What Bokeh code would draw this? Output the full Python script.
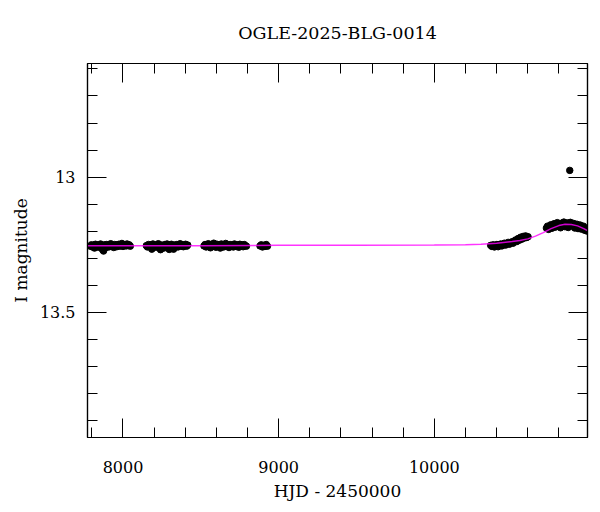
from bokeh.plotting import figure
from bokeh.models import (Range1d, LinearAxis, SingleIntervalTicker,
                          CustomJSTickFormatter)
from bokeh.embed import file_html
from bokeh.resources import INLINE

TITLE = "OGLE-2025-BLG-0014"
X_LABEL = "HJD - 2450000"
Y_LABEL = "I magnitude"

# observing seasons (HJD - 2450000, I mag)
s1_t = [7790, 7797, 7804, 7810, 7817, 7823, 7830, 7836, 7843, 7850,
        7856, 7862, 7869, 7875, 7882, 7888, 7895, 7901, 7908, 7915,
        7921, 7928, 7934, 7941, 7947, 7954, 7960, 7967, 7973, 7980,
        7987, 7993, 8000, 8006, 8013, 8020, 8026, 8033, 8040, 8047]
s1_m = [13.255, 13.250, 13.258, 13.252, 13.262, 13.248, 13.256, 13.251, 13.259, 13.253,
        13.247, 13.257, 13.268, 13.273, 13.250, 13.261, 13.249, 13.255, 13.258, 13.251,
        13.246, 13.256, 13.252, 13.260, 13.249, 13.254, 13.257, 13.250, 13.248, 13.255,
        13.252, 13.245, 13.256, 13.251, 13.249, 13.254, 13.247, 13.253, 13.250, 13.255]

s2_t = [8150, 8157, 8164, 8171, 8178, 8185, 8192, 8199, 8206, 8213,
        8220, 8227, 8234, 8241, 8248, 8255, 8262, 8269, 8276, 8283,
        8290, 8297, 8304, 8311, 8318, 8325, 8332, 8339, 8346, 8353,
        8360, 8367, 8374, 8381, 8388, 8395, 8402, 8409, 8416]
s2_m = [13.253, 13.258, 13.249, 13.256, 13.251, 13.266, 13.247, 13.255, 13.252, 13.259,
        13.250, 13.246, 13.256, 13.268, 13.251, 13.257, 13.262, 13.249, 13.254, 13.247,
        13.258, 13.267, 13.252, 13.248, 13.256, 13.266, 13.251, 13.254, 13.249, 13.258,
        13.252, 13.246, 13.255, 13.250, 13.257, 13.253, 13.248, 13.255, 13.251]

s3_t = [8520, 8527, 8534, 8541, 8548, 8555, 8562, 8569, 8576, 8583,
        8590, 8597, 8604, 8611, 8618, 8625, 8632, 8639, 8646, 8653,
        8660, 8667, 8674, 8681, 8688, 8695, 8702, 8709, 8716, 8723,
        8730, 8737, 8744, 8751, 8758, 8765, 8772, 8779, 8786, 8793]
s3_m = [13.254, 13.249, 13.258, 13.252, 13.246, 13.257, 13.261, 13.250, 13.255, 13.244,
        13.253, 13.259, 13.248, 13.256, 13.251, 13.262, 13.247, 13.254, 13.258, 13.250,
        13.245, 13.256, 13.252, 13.260, 13.249, 13.255, 13.251, 13.258, 13.247, 13.253,
        13.256, 13.250, 13.259, 13.248, 13.254, 13.251, 13.257, 13.249, 13.253, 13.255]

s4_t = [8880, 8888, 8896, 8904, 8912, 8920, 8928]
s4_m = [13.254, 13.250, 13.258, 13.252, 13.256, 13.249, 13.255]

s5_t = [10362, 10370, 10378, 10386, 10394, 10402, 10410, 10418, 10426, 10434,
        10442, 10450, 10458, 10466, 10474, 10482, 10490, 10498, 10506, 10514,
        10522, 10530, 10538, 10546, 10554, 10562, 10570, 10578, 10586, 10594, 10602]
s5_m = [13.252, 13.256, 13.250, 13.258, 13.253, 13.249, 13.257, 13.251, 13.247, 13.254,
        13.249, 13.244, 13.251, 13.246, 13.241, 13.248, 13.243, 13.239, 13.244, 13.236,
        13.232, 13.238, 13.227, 13.233, 13.222, 13.229, 13.219, 13.225, 13.217, 13.223, 13.220]

s6_t = [10720, 10727, 10734, 10741, 10748, 10755, 10762, 10769, 10776, 10783,
        10790, 10797, 10804, 10811, 10818, 10825, 10832, 10839, 10846, 10853,
        10860, 10867, 10874, 10881, 10888, 10895, 10902, 10909, 10916, 10923,
        10930, 10937, 10944, 10951, 10958, 10965, 10972, 10979, 10986]
s6_m = [13.188, 13.181, 13.193, 13.184, 13.176, 13.189, 13.180, 13.172, 13.185, 13.177,
        13.168, 13.182, 13.174, 13.187, 13.170, 13.179, 13.166, 13.183, 13.175, 13.169,
        13.186, 13.173, 13.167, 13.180, 13.176, 13.171, 13.188, 13.178, 13.174, 13.190,
        13.182, 13.177, 13.192, 13.185, 13.181, 13.196, 13.188, 13.199, 13.193]

outlier_t = [10870]
outlier_m = [12.975]

# model curve
model_t = [7770, 8500, 9000, 9500, 10000, 10200, 10300, 10400, 10500, 10550,
           10600, 10650, 10700, 10750, 10800, 10840, 10880, 10920, 10960, 11000]
model_m = [13.253, 13.253, 13.252, 13.252, 13.251, 13.250, 13.248, 13.244, 13.238, 13.234,
           13.228, 13.218, 13.205, 13.190, 13.179, 13.174, 13.175, 13.180, 13.190, 13.202]

x_tick_labels = {8000: "8000", 9000: "9000", 10000: "10000"}
y_tick_labels = {13: "13", 13.5: "13.5"}

FONT = "DejaVu Serif"

p = figure(frame_width=500, frame_height=374,
           x_range=Range1d(7772, 10984), y_range=Range1d(13.962, 12.58),
           output_backend="svg", toolbar_location=None,
           min_border_left=87, min_border_right=5, min_border_top=63,
           min_border_bottom=10, x_axis_label=X_LABEL, y_axis_label=Y_LABEL)
p.background_fill_color = "white"
p.border_fill_color = "white"
p.xgrid.visible = False
p.ygrid.visible = False
p.outline_line_color = "black"
p.outline_line_width = 1.2

p.title.text = TITLE
p.title.align = "center"
p.title.vertical_align = "bottom"
p.title.text_font = FONT
p.title.text_font_size = "17.5px"
p.title.text_font_style = "normal"
p.title.text_color = "black"
p.title.standoff = 41

xt = SingleIntervalTicker(interval=1000, num_minor_ticks=5)
yt = SingleIntervalTicker(interval=0.5, num_minor_ticks=5)

def style(ax):
    ax.axis_line_color = "black"
    ax.axis_line_width = 1.2
    ax.major_tick_in = 19
    ax.major_tick_out = 0
    ax.minor_tick_in = 10
    ax.minor_tick_out = 0
    ax.major_tick_line_color = "black"
    ax.minor_tick_line_color = "black"
    ax.major_label_text_font = FONT
    ax.major_label_text_font_size = "16px"
    ax.major_label_text_color = "black"
    ax.axis_label_text_font = FONT
    ax.axis_label_text_font_size = "17px"
    ax.axis_label_text_font_style = "normal"
    ax.axis_label_text_color = "black"

xa = p.xaxis[0]
xa.ticker = xt
xa.major_label_overrides = x_tick_labels
style(xa)
xa.major_label_standoff = 23
xa.axis_label_standoff = 5

ya = p.yaxis[0]
ya.ticker = yt
ya.major_label_overrides = y_tick_labels
style(ya)
ya.major_label_standoff = 12
ya.axis_label_standoff = 6

empty = CustomJSTickFormatter(code="return ''")
top = LinearAxis(ticker=SingleIntervalTicker(interval=1000, num_minor_ticks=5),
                 formatter=empty)
style(top)
top.major_label_standoff = 0
p.add_layout(top, "above")
right = LinearAxis(ticker=SingleIntervalTicker(interval=0.5, num_minor_ticks=5),
                   formatter=empty)
style(right)
right.major_label_standoff = 0
p.add_layout(right, "right")

all_t = s1_t + s2_t + s3_t + s4_t + s5_t + s6_t + outlier_t
all_m = s1_m + s2_m + s3_m + s4_m + s5_m + s6_m + outlier_m
p.scatter(all_t, all_m, size=6.5, color="black", line_color="black")
p.line(model_t, model_m, line_color="#ff00ff", line_width=1.5, line_alpha=0.8)

open("out.html", "w").write(file_html(p, INLINE))
